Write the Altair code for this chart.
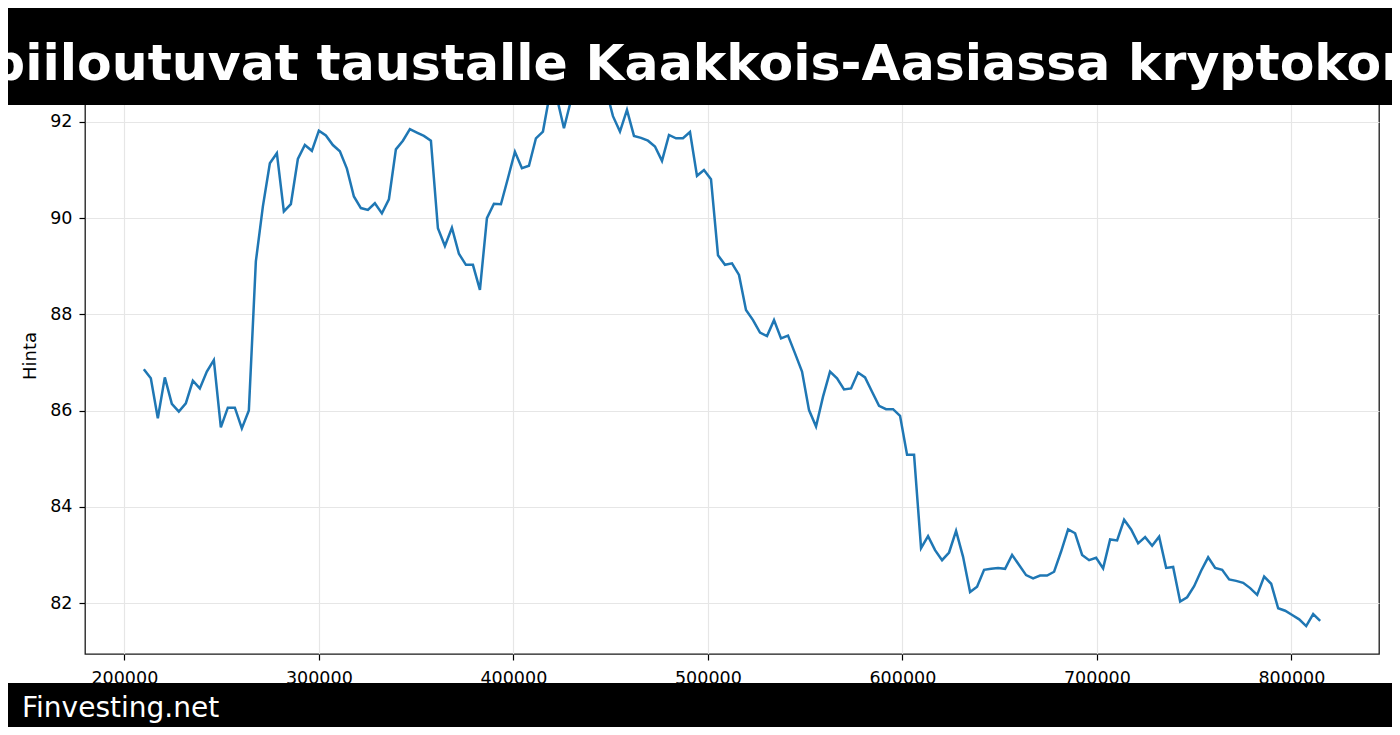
import altair as alt
import pandas as pd

# ---- data ----
x_vals = [
    210000, 213600, 217200, 220800, 224400, 228000, 231600, 235200, 238800, 242400,
    246000, 249600, 253200, 256800, 260400, 264000, 267600, 271200, 274800, 278400,
    282000, 285600, 289200, 292800, 296400, 300000, 303600, 307200, 310800, 314400,
    318000, 321600, 325200, 328800, 332400, 336000, 339600, 343200, 346800, 350400,
    354000, 357600, 361200, 364800, 368400, 372000, 375600, 379200, 382800, 386400,
    390000, 393600, 397200, 400800, 404400, 408000, 411600, 415200, 418800, 422400,
    426000, 429600, 433200, 436800, 440400, 444000, 447600, 451200, 454800, 458400,
    462000, 465600, 469200, 472800, 476400, 480000, 483600, 487200, 490800, 494400,
    498000, 501600, 505200, 508800, 512400, 516000, 519600, 523200, 526800, 530400,
    534000, 537600, 541200, 544800, 548400, 552000, 555600, 559200, 562800, 566400,
    570000, 573600, 577200, 580800, 584400, 588000, 591600, 595200, 598800, 602400,
    606000, 609600, 613200, 616800, 620400, 624000, 627600, 631200, 634800, 638400,
    642000, 645600, 649200, 652800, 656400, 660000, 663600, 667200, 670800, 674400,
    678000, 681600, 685200, 688800, 692400, 696000, 699600, 703200, 706800, 710400,
    714000, 717600, 721200, 724800, 728400, 732000, 735600, 739200, 742800, 746400,
    750000, 753600, 757200, 760800, 764400, 768000, 771600, 775200, 778800, 782400,
    786000, 789600, 793200, 796800, 800400, 804000, 807600, 811200, 814800,
]

price = [
    86.86, 86.67, 85.84, 86.69, 86.14, 85.98, 86.15, 86.62, 86.46, 86.81,
    87.05, 85.65, 86.06, 86.06, 85.63, 86.00, 89.10, 90.24, 91.14, 91.35,
    90.14, 90.29, 91.23, 91.52, 91.40, 91.82, 91.72, 91.52, 91.39, 91.03,
    90.45, 90.21, 90.17, 90.31, 90.10, 90.39, 91.43, 91.61, 91.85, 91.78,
    91.71, 91.61, 89.79, 89.42, 89.80, 89.26, 89.03, 89.03, 88.51, 90.00,
    90.30, 90.29, 90.83, 91.38, 91.04, 91.09, 91.66, 91.80, 92.60, 92.50,
    91.87, 92.45, 92.62, 92.75, 92.81, 92.72, 92.68, 92.12, 91.80, 92.25,
    91.71, 91.67, 91.61, 91.49, 91.19, 91.73, 91.66, 91.66, 91.79, 90.88,
    91.00, 90.81, 89.23, 89.03, 89.06, 88.82, 88.09, 87.88, 87.62, 87.55,
    87.88, 87.50, 87.56, 87.19, 86.81, 86.01, 85.67, 86.29, 86.81, 86.67,
    86.44, 86.46, 86.79, 86.69, 86.39, 86.10, 86.03, 86.03, 85.89, 85.08,
    85.08, 83.14, 83.39, 83.10, 82.89, 83.05, 83.50, 82.96, 82.23, 82.34,
    82.69, 82.71, 82.73, 82.71, 83.00, 82.79, 82.58, 82.51, 82.57, 82.57,
    82.65, 83.07, 83.53, 83.45, 83.00, 82.89, 82.94, 82.72, 83.32, 83.30,
    83.73, 83.53, 83.24, 83.37, 83.19, 83.38, 82.73, 82.75, 82.03, 82.12,
    82.35, 82.67, 82.95, 82.73, 82.69, 82.49, 82.46, 82.42, 82.31, 82.17,
    82.55, 82.40, 81.89, 81.84, 81.75, 81.66, 81.52, 81.77, 81.63,
]

x_ticks = [200000, 300000, 400000, 500000, 600000, 700000, 800000]
y_ticks = [82, 84, 86, 88, 90, 92]
x_domain = [179760, 845040]
y_domain = [80.94, 93.35]
y_label = "Hinta"
title_text = "piiloutuvat taustalle Kaakkois-Aasiassa kryptokonnat"
footer_text = "Finvesting.net"

df = pd.DataFrame({"x": x_vals, "Hinta": price})

W, H = 1294, 597
FONT = "DejaVu Sans"

line = alt.Chart(df).mark_line(color="#1f77b4", strokeWidth=2.5).encode(
    x=alt.X(
        "x:Q",
        scale=alt.Scale(domain=x_domain, nice=False, zero=False),
        axis=alt.Axis(
            values=x_ticks, format="d", title=None, domain=False,
            tickSize=6, tickColor="#000", tickWidth=1.2,
            labelPadding=9, labelFontSize=17.5, labelColor="#000", labelFont=FONT,
            grid=True, gridColor="#e6e6e6", gridWidth=1.2,
        ),
    ),
    y=alt.Y(
        "Hinta:Q",
        scale=alt.Scale(domain=y_domain, nice=False, zero=False),
        axis=alt.Axis(
            values=y_ticks, title=y_label, domain=False,
            tickSize=6, tickColor="#000", tickWidth=1.2,
            labelPadding=7, labelFontSize=17.5, labelColor="#000", labelFont=FONT,
            titleFont=FONT, titleFontSize=18, titleFontWeight="normal",
            titleColor="#000", titlePadding=10,
            grid=True, gridColor="#e6e6e6", gridWidth=1.2,
        ),
    ),
)

one = alt.Data(values=[{"t": title_text, "f": footer_text}])

top_bar = alt.Chart(one).mark_rect(color="#000").encode(
    x=alt.value(-85), x2=alt.value(1315), y=alt.value(-57), y2=alt.value(48)
)
title = alt.Chart(one).mark_text(
    color="#fff", font=FONT, fontSize=50.5, fontWeight="bold",
    align="left", baseline="alphabetic",
).encode(text="t:N", x=alt.value(-96), y=alt.value(22.5))

bottom_bar = alt.Chart(one).mark_rect(color="#000").encode(
    x=alt.value(-85), x2=alt.value(1315), y=alt.value(626), y2=alt.value(690)
)
footer = alt.Chart(one).mark_text(
    color="#fff", font=FONT, fontSize=28,
    align="left", baseline="alphabetic",
).encode(text="f:N", x=alt.value(-63), y=alt.value(660))

chart = alt.layer(line, top_bar, title, bottom_bar, footer).properties(
    width=W, height=H,
    autosize=alt.AutoSizeParams(type="none"),
    padding={"left": 77, "top": 49, "right": 13, "bottom": 73},
    background="#fff",
).configure_view(stroke="#1a1a1a", strokeWidth=1.3)

chart.save("out.html", embed_options={"renderer": "svg", "actions": False})
